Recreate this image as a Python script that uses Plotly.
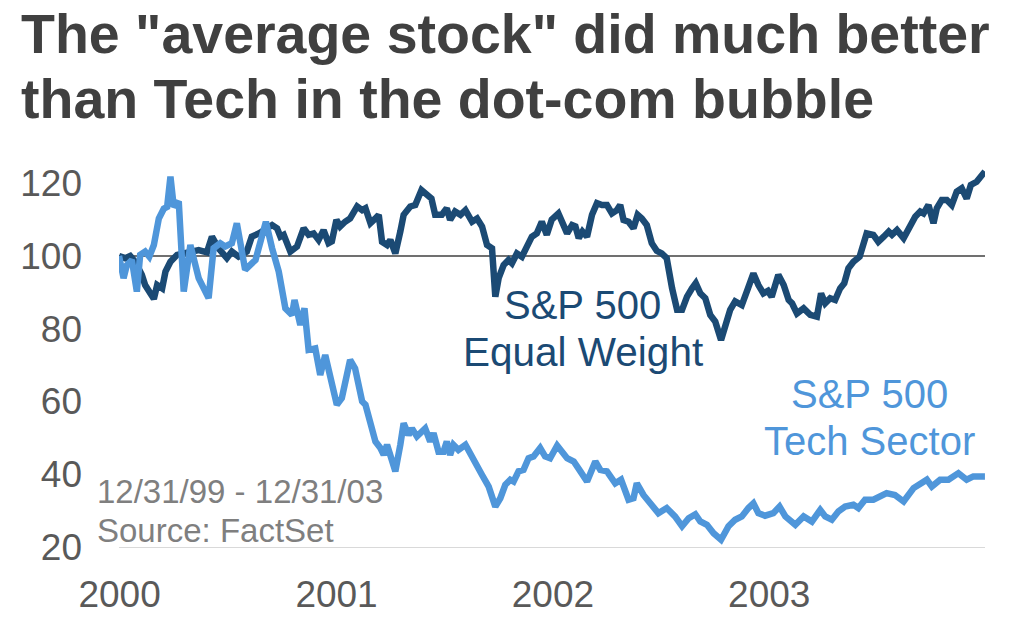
import pandas as pd
import plotly.graph_objects as go

# weeks after 12/31/99, index level (12/31/99 = 100)
ew_weeks = [0, 1.5, 2.7, 3.9, 5.5, 6.3, 8.4, 9.2, 10.4, 11.2, 12.4, 14, 15.6, 17.6, 19.2, 21.2,
            22.4, 24, 26, 27.2, 28.8, 30.8, 32, 33.7, 35.3, 36.9, 38.1, 38.9, 39.7, 41.3, 42.9,
            44.5, 45.7, 46.9, 48.1, 49.3, 50.5, 51.3, 52.4, 53.3, 54.5, 55.7, 57.4, 58.6, 59.4,
            60.6, 61.8, 62.6, 63.4, 64.6, 65.4, 66.6, 67.8, 68.6, 70.2, 71.4, 72.9, 74.2, 75.3,
            76.2, 77.8, 79.0, 79.8, 81.0, 82.3, 83.5, 85.1, 86.3, 87.5, 88.7, 89.9, 90.7, 91.5,
            92.7, 93.9, 94.7, 95.9, 97.1, 98.3, 99.5, 100.7, 101.9, 103.1, 104.3, 105.9, 107.2,
            108, 109.2, 110, 110.8, 111.7, 112.8, 114, 115.2, 116.4, 117.6, 118.8, 120, 120.8,
            121.6, 122.8, 124, 125, 126, 127.2, 128.4, 129.6, 130.8, 132, 133.3, 134.5, 135.7,
            136.9, 138.1, 139, 140.1, 141.3, 142.5, 143.7, 145.1, 146.1, 147.3, 148.5, 150.1,
            151.3, 152.9, 154.1, 155.3, 156.4, 157.3, 158.9, 160.2, 161.4, 162.2, 163.4, 165,
            166.6, 168.2, 169.2, 170.2, 171.4, 172.6, 173.8, 174.8, 175.8, 177, 178.5, 179.4,
            180.2, 181.8, 183, 184.3, 185.5, 186.3, 187.5, 189.1, 190.7, 191.9, 193.1, 193.9,
            195.1, 196.3, 197.1, 198.3, 199.5, 200.7, 201.9, 203.1, 204.3, 205.3, 206.7, 207.9,
            208.7]
ew_vals = [100, 99.4, 100, 98.4, 94.8, 92, 88.2, 92, 91.1, 95.7, 98.4, 100.3, 100.7, 101.2, 101.6, 101,
           105.3, 102.1, 99.4, 101.2, 99.8, 101.2, 105.3, 106.2, 107.1, 108.5, 107.6, 105.3, 105.8,
           101.2, 102.6, 107.6, 105.8, 106.2, 104.4, 107.1, 103.5, 104, 109.9, 108.1, 109.4, 110.3,
           113.6, 112.6, 113.1, 109, 110.3, 111.3, 103.9, 103, 104.4, 100.7, 106.7, 111.3, 113.6,
           114, 118.1, 116.8, 115.8, 111.3, 111.3, 113.1, 109.9, 112.2, 111.3, 112.6, 109.4, 110.3,
           108.1, 103, 102.1, 88.8, 93.9, 97.5, 98.9, 98, 100.7, 99.8, 103, 105.3, 106.2, 109.4,
           105.8, 110, 111.7, 108.5, 106.2, 108.5, 108.1, 104.9, 106.7, 105.3, 111.3, 114.5, 114,
           114, 111.7, 112.6, 114, 109.9, 109.4, 107.6, 111.3, 110.3, 108.5, 103.5, 101.4, 100.7,
           99.4, 91.1, 85.2, 85.2, 88.8, 91.1, 92.5, 89.7, 88.4, 83.8, 82, 76.9, 80.1, 85.2, 87.5,
           86.5, 90.2, 95.2, 92, 89.7, 90.4, 88.8, 94.8, 92, 87.9, 87, 84.2, 85.6, 83.8, 83.3,
           89.7, 87, 88.4, 87.9, 91.1, 92.5, 96.6, 98.4, 99.8, 103, 106.2, 105.8, 103.9, 105.3,
           106.7, 105.8, 107.1, 104.9, 108.5, 110.8, 112.2, 111.7, 114, 109, 113.1, 115.4, 115.4,
           114, 117.7, 118.6, 115.8, 119.5, 120.4, 122.3, 123.2]

tech_weeks = [0, 1.1, 1.9, 3.1, 4.3, 5.1, 6.3, 7.3, 8.4, 9.6, 10.8, 11.6, 12.4, 13.2, 14.4, 15.6,
              17.2, 19.2, 21.6, 22.8, 24.4, 25.6, 27.2, 28.4, 29.2, 30.4, 32.9, 34.1, 35.4, 36.9,
              38.5, 40.1, 41.7, 42.3, 43.7, 44.7, 45.7, 47.3, 48.5, 49.7, 51.3, 52.5, 53.7, 54.9,
              55.7, 56.9, 58.6, 59.4, 60.6, 61.8, 63, 63.8, 64.6, 66.6, 67.8, 68.6, 69.8, 70.6,
              71.8, 73.8, 75, 75.8, 77, 78.2, 79, 79.8, 80.6, 81.8, 83.5, 85.1, 86.3, 87.5, 89.1,
              90.7, 91.9, 93.1, 94.3, 95.1, 96.3, 97.5, 98.7, 99.9, 101.5, 102.7, 103.9, 105.6,
              108, 109.6, 111.2, 112.8, 114.8, 116, 117.6, 119.6, 121, 122.8, 124, 124.8, 126.4,
              128.4, 130, 132, 134, 135.7, 137.3, 138.9, 140.1, 141.7, 143.3, 145.1, 146.9, 148.5,
              150.1, 151.7, 152.9, 154.1, 155.7, 157.7, 159.2, 160.6, 163, 165, 167, 169, 170.2,
              171.8, 173.4, 175, 177, 178.2, 179.8, 181.8, 183.4, 185, 187, 189.1, 191.5, 193.5,
              194.7, 195.9, 197.9, 199.9, 202.3, 204.3, 205.9, 208.7]
tech_vals = [100, 93.9, 97.5, 98.9, 90.2, 100.3, 101.2, 99.8, 103, 110.3, 113, 113.5, 121.8, 113.5,
             115, 90.2, 103, 93.9, 88.4, 102.1, 103.5, 102.6, 103.5, 109, 103.9, 96.2, 98.9, 104.9,
             109.4, 102.1, 95.7, 85.6, 83.8, 87.9, 81, 85.6, 74.2, 74.6, 67.3, 72.8, 64, 59.1, 60.9,
             66.4, 71.4, 69.1, 60, 59.1, 54.5, 49, 47.2, 45.3, 48.1, 40.8, 48.1, 54, 50.8, 52.6,
             50.4, 52.6, 49, 51.3, 46.2, 46.2, 49, 45.3, 48.1, 46.7, 48.1, 44.4, 42.6, 39.8, 36.6,
             31.1, 33.4, 37.1, 38.5, 38, 40.8, 41.2, 44.4, 44.9, 47.2, 44.9, 44.4, 47.9, 44.4, 43.5,
             40.8, 38, 43.5, 41.2, 40.8, 37.5, 38.5, 33, 33.4, 37.5, 34.3, 31.6, 29.3, 30.7, 28.4,
             25.7, 27.9, 29, 27, 26.1, 23.8, 22, 25.7, 27.5, 28.4, 30.7, 32, 29.3, 28.6, 29.3, 31.1,
             28.4, 26.1, 28.4, 27, 30.2, 28.4, 27.5, 29.8, 31.1, 31.6, 30.7, 33, 33, 33.9, 34.8,
             34.3, 32.5, 36.2, 37.5, 38.5, 36.6, 38.5, 38.5, 40.3, 38.5, 39.4, 39.4]

y_ticks = [20, 40, 60, 80, 100, 120]
x_ticks = ["2000-01-01", "2001-01-01", "2002-01-01", "2003-01-01"]
x_labels = ["2000", "2001", "2002", "2003"]

start = pd.Timestamp("1999-12-31")
ew_dates = [start + pd.Timedelta(days=w * 7) for w in ew_weeks]
tech_dates = [start + pd.Timedelta(days=w * 7) for w in tech_weeks]

DARK = "#1b4a74"
LIGHT = "#4f96da"
FONT = "Liberation Sans, Arial, sans-serif"

# page has an 8px body margin, so the figure sits 8px right/down
OFF = 8
W, H = 1020, 632
L, R, T, B = 115 - OFF, 35 + OFF, 165 - OFF, 85 + OFF


def px(x):
    return (x - OFF - L) / (W - L - R)


def py(y):
    return (H - B - (y - OFF)) / (H - T - B)


fig = go.Figure()
fig.add_trace(go.Scatter(x=ew_dates, y=ew_vals, mode="lines",
                         line=dict(color=DARK, width=6.5), hoverinfo="skip"))
fig.add_trace(go.Scatter(x=tech_dates, y=tech_vals, mode="lines",
                         line=dict(color=LIGHT, width=6.5), hoverinfo="skip"))

fig.add_shape(type="line", xref="paper", x0=0, x1=1, yref="y", y0=100, y1=100,
              line=dict(color="#404040", width=1.5), layer="below")


def label(text, x, y, size, color, bold=False, anchor="center"):
    fig.add_annotation(text=f"<b>{text}</b>" if bold else text, xref="paper", yref="paper",
                       x=px(x), y=py(y), xanchor=anchor, yanchor="middle", showarrow=False,
                       font=dict(family=FONT, size=size, color=color))


label('The "average stock" did much better', 15, 34, 55.5, "#404040", bold=True, anchor="left")
label("than Tech in the dot-com bubble", 15, 99, 55.5, "#404040", bold=True, anchor="left")
label("S&P 500", 581, 305, 40, DARK)
label("Equal Weight", 581, 352, 40.5, DARK)
label("S&P 500", 869, 394, 40, LIGHT)
label("Tech Sector", 869, 441, 40, LIGHT)
label("12/31/99 - 12/31/03", 91, 491, 33, "#7f7f7f", anchor="left")
label("Source: FactSet", 91, 530, 33, "#7f7f7f", anchor="left")

fig.update_layout(
    width=W, height=H,
    margin=dict(l=L, r=R, t=T, b=B),
    paper_bgcolor="white", plot_bgcolor="white",
    showlegend=False,
    font=dict(family=FONT, color="#595959"),
    xaxis=dict(range=["1999-12-31", "2003-12-31"], tickvals=x_ticks, ticktext=x_labels,
               showgrid=False, zeroline=False, showline=True, linecolor="#d9d9d9", linewidth=1,
               ticks="", tickfont=dict(size=37, color="#595959"), ticklabelstandoff=15),
    yaxis=dict(range=[20, 125], tickvals=y_ticks, showgrid=False, zeroline=False,
               showline=False, ticks="", tickfont=dict(size=37, color="#595959"),
               ticklabelstandoff=36),
)

fig.write_html("out.html")
